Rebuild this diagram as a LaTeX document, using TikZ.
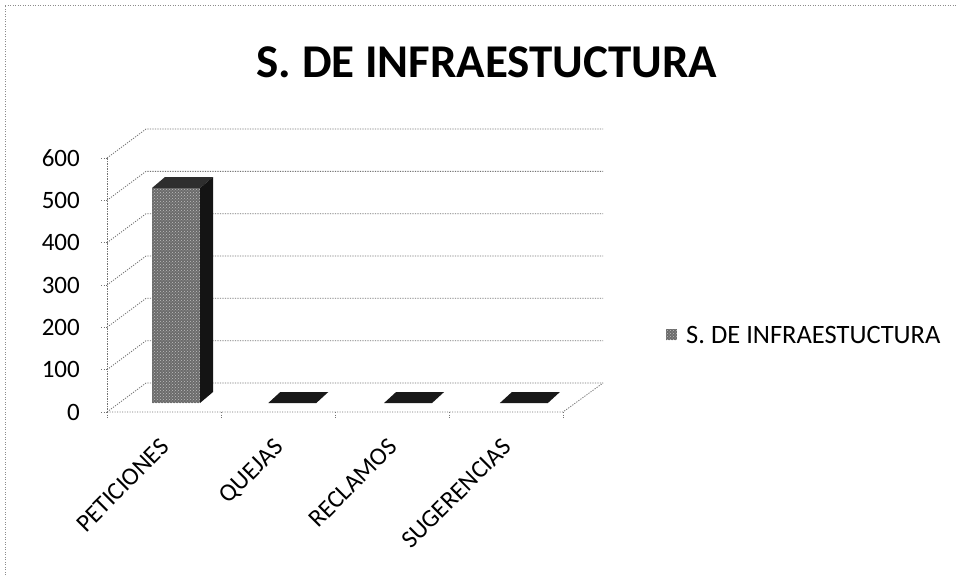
\documentclass[tikz,border=0pt]{standalone}
\usepackage{fontspec}
\setmainfont{Carlito}
\usetikzlibrary{patterns}
\tikzset{
  grid/.style={black!55, line width=0.8pt, dash pattern=on 1.2pt off 1.3pt},
  axisline/.style={black!55, line width=0.8pt, dash pattern=on 1.2pt off 1.3pt},
  small/.style={font=\fontsize{25}{27}\selectfont, inner sep=0pt},
  legtext/.style={font=\fontsize{26.5}{28}\selectfont, inner sep=0pt},
  cat/.style={small, rotate=45, anchor=north east},
  frontface/.style={fill=black!58},
  dots/.style={pattern=crosshatch dots, pattern color=black!25},
  sideface/.style={fill=black!92},
  topface/.style={fill=black!82},
  flatbar/.style={fill=black!90}
}
\begin{document}
\begin{tikzpicture}[x=1pt,y=-1pt]
\useasboundingbox (0,0) rectangle (957,575);
\fill[white] (0,0) rectangle (957,575);
% outer frame (dotted top and left)
\draw[black!45, line width=0.8pt, dash pattern=on 1pt off 1.5pt] (5,575) -- (5,5) -- (957,5);
% title
\node[font=\fontsize{47}{50}\selectfont\bfseries, inner sep=0pt] (title) at (487,62) {S. DE INFRAESTUCTURA};
% gridlines and walls
\foreach \v in {0,100,...,600}{
  \pgfmathsetmacro{\yf}{412-0.4233*\v}
  \pgfmathsetmacro{\yb}{383-0.4233*\v}
  \draw[grid] (107,\yf) -- (146,\yb) -- (603,\yb);
  \draw[axisline] (101,\yf) -- (107,\yf);
  \node[small, anchor=east] (lab\v) at (80,\yf) {\v};
}
% front y axis
\draw[axisline] (107,412) -- (107,158);
% floor front edge and right side
\draw[axisline] (107,412) -- (563,412) -- (603,383);
\foreach \x in {107,221,335,449,563}{
  \draw[axisline] (\x,412) -- (\x,418);
}
% PETICIONES bar
\fill[frontface] (152,403) rectangle (200,188);
\fill[dots] (152,403) rectangle (200,188);
\fill[topface] (152,188) -- (165,177) -- (213,177) -- (200,188) -- cycle;
\fill[sideface] (200,188) -- (213,177) -- (213,392) -- (200,403) -- cycle;
% zero-value flat bars
\foreach \i in {1,2,3}{
  \pgfmathsetmacro{\cx}{176.5+115.8*\i}
  \fill[flatbar] (\cx-24,403) -- (\cx+24,403) -- (\cx+36,392) -- (\cx-12,392) -- cycle;
}
% category labels
\node[cat] (c1) at (159,437) {PETICIONES};
\node[cat] (c2) at (273,437) {QUEJAS};
\node[cat] (c3) at (387,437) {RECLAMOS};
\node[cat] (c4) at (501,437) {SUGERENCIAS};
% legend
\fill[frontface] (666,329) rectangle (677,340);
\fill[dots] (666,329) rectangle (677,340);
\node[legtext, anchor=west] (leg) at (686,335) {S. DE INFRAESTUCTURA};
\end{tikzpicture}
\end{document}
